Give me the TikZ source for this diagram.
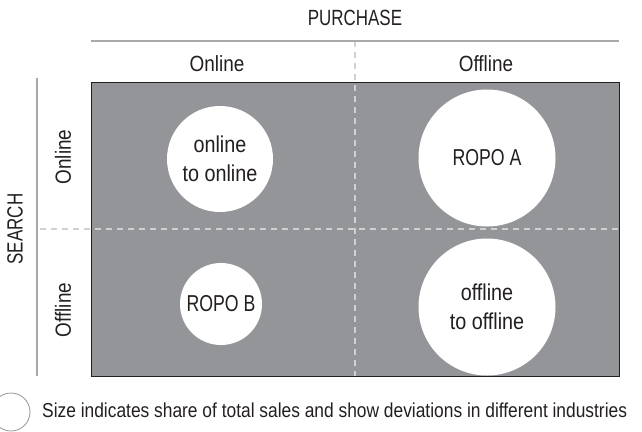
\documentclass[tikz,border=0pt]{standalone}
\usepackage{fontspec}
\setmainfont{Liberation Sans}[FakeStretch=0.86]
\newfontfamily\capsfont{Liberation Sans}[FakeStretch=0.77]
\usepackage{tikz}

\definecolor{cellgray}{HTML}{939598}
\definecolor{rulegray}{HTML}{A7A9AC}
\definecolor{dashgray}{HTML}{CFD0D2}
\definecolor{ink}{HTML}{231F20}

\tikzset{
    bubble/.style={circle, fill=white, inner sep=0pt, align=center,
        font=\fontsize{23}{29}\selectfont},
    axislabel/.style={inner sep=0pt, font=\fontsize{22}{24}\selectfont},
    griddash/.style={dashgray, line width=1.2pt, dash pattern=on 6pt off 5pt}
}

\begin{document}
\begin{tikzpicture}[x=1pt, y=-1pt, text=ink]
    \useasboundingbox (0,0) rectangle (642,431);

    \coordinate (nw) at (91,82);
    \coordinate (se) at (619,376);
    \coordinate (vtop) at (355,41);
    \coordinate (vbot) at (355,376);
    \coordinate (hleft) at (40,229);
    \coordinate (hright) at (619,229);
    \coordinate (topl) at (91,41);
    \coordinate (topr) at (619,41);
    \coordinate (sidet) at (37,78);
    \coordinate (sideb) at (37,376);

    % matrix field
    \fill[cellgray] (nw) rectangle (se);
    \draw[griddash] (vtop) -- (vbot);
    \draw[griddash] (hleft) -- (hright);
    \draw[ink, line width=0.9pt] (nw) rectangle (se);

    % axes
    \draw[rulegray, line width=2pt] (topl) -- (topr);
    \draw[rulegray, line width=2pt] (sidet) -- (sideb);

    \node[axislabel] (purchase) at (355,18) {\capsfont PURCHASE};
    \node[axislabel] (buyon) at (217,64) {Online};
    \node[axislabel] (buyoff) at (486,64) {Offline};
    \node[axislabel, rotate=90] (search) at (15,229) {\capsfont SEARCH};
    \node[axislabel, rotate=90] (seekon) at (63,157) {Online};
    \node[axislabel, rotate=90] (seekoff) at (63,310) {Offline};

    % share bubbles
    \node[bubble, minimum size=106pt] (onon) at (220,159) {online\\to online};
    \node[bubble, minimum size=137pt] (ropoA) at (487,158) {\capsfont ROPO A};
    \node[bubble, minimum size=82pt] (ropoB) at (221,304) {\capsfont ROPO B};
    \node[bubble, minimum size=137pt] (offoff) at (487,307) {offline\\to offline};

    % legend
    \node[circle, draw=cellgray, line width=0.8pt, minimum size=38pt, inner sep=0pt] (key) at (11,412) {};
    \node[anchor=base west, inner sep=0pt, font=\fontsize{20.2}{24}\selectfont] (keytext) at (42,417)
        {Size indicates share of total sales and show deviations in different industries};
\end{tikzpicture}
\end{document}
